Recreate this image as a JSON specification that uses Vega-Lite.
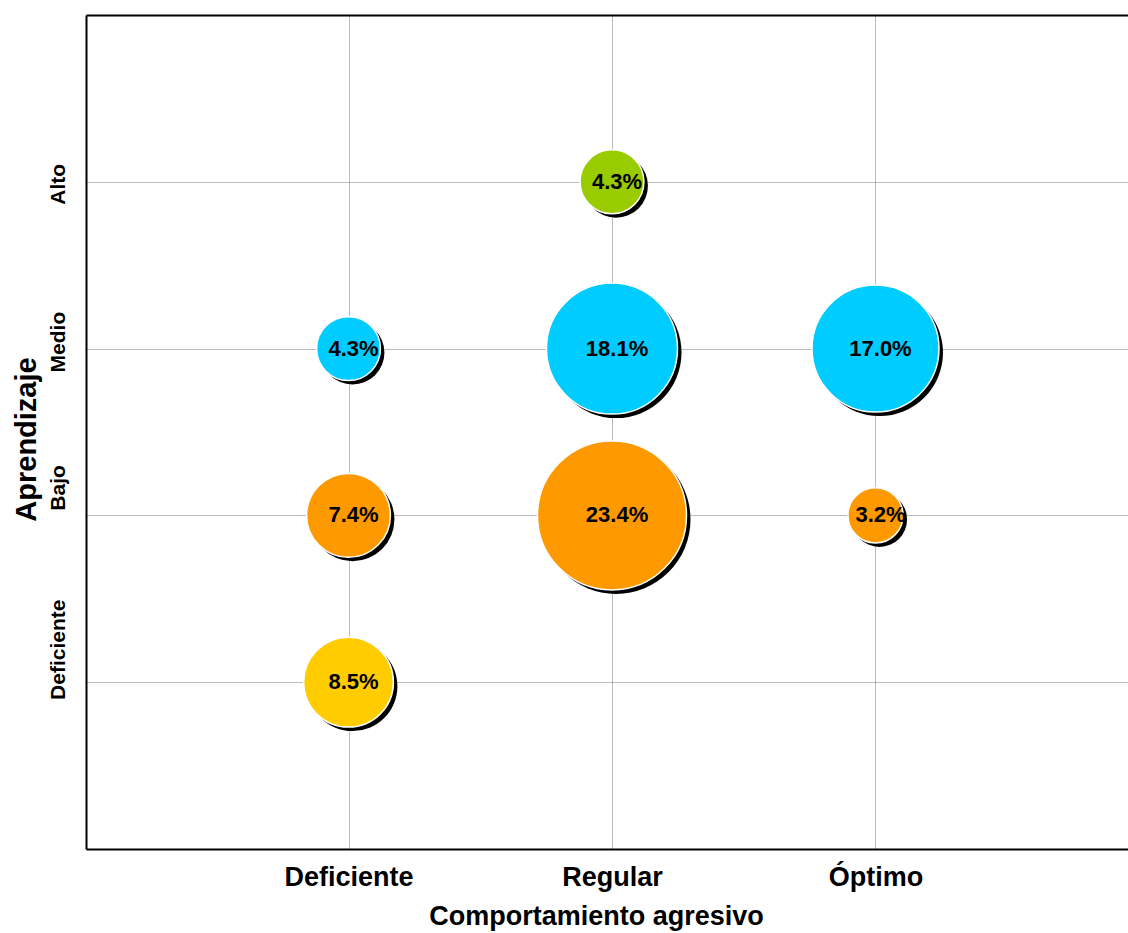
{
  "$schema": "https://vega.github.io/schema/vega-lite/v6.json",
  "width": 1042,
  "height": 834,
  "autosize": {"type": "none"},
  "padding": {"left": 86, "top": 15, "right": 0, "bottom": 84},
  "background": "white",
  "config": {
    "font": "Liberation Sans, Arial, sans-serif",
    "view": {"stroke": null},
    "axis": {
      "domainColor": "black",
      "domainWidth": 2,
      "ticks": false,
      "gridColor": "#777777",
      "gridDash": [1, 1],
      "gridWidth": 1,
      "labelColor": "black",
      "titleColor": "black",
      "labelFontWeight": "bold",
      "titleFontWeight": "bold"
    }
  },
  "data": {
    "values": [
      {"comportamiento": "Deficiente", "aprendizaje": "Medio", "porcentaje": 0.043},
      {"comportamiento": "Deficiente", "aprendizaje": "Bajo", "porcentaje": 0.074},
      {"comportamiento": "Deficiente", "aprendizaje": "Deficiente", "porcentaje": 0.085},
      {"comportamiento": "Regular", "aprendizaje": "Alto", "porcentaje": 0.043},
      {"comportamiento": "Regular", "aprendizaje": "Medio", "porcentaje": 0.181},
      {"comportamiento": "Regular", "aprendizaje": "Bajo", "porcentaje": 0.234},
      {"comportamiento": "Óptimo", "aprendizaje": "Medio", "porcentaje": 0.170},
      {"comportamiento": "Óptimo", "aprendizaje": "Bajo", "porcentaje": 0.032}
    ]
  },
  "layer": [
    {
      "mark": {"type": "circle", "color": "black", "opacity": 1, "xOffset": 4, "yOffset": 4},
      "encoding": {
        "x": {
          "field": "comportamiento", "type": "nominal",
          "scale": {"type": "point", "domain": ["Deficiente", "Regular", "Óptimo"], "padding": 0.9773, "align": 0.5097},
          "axis": {
            "orient": "bottom", "title": "Comportamiento agresivo", "labelAngle": 0,
            "labelFontSize": 27, "titleFontSize": 27, "labelPadding": 15, "titlePadding": 13,
            "grid": true, "titleX": 510
          }
        },
        "y": {
          "field": "aprendizaje", "type": "nominal",
          "scale": {"type": "point", "domain": ["Alto", "Medio", "Bajo", "Deficiente"], "padding": 1},
          "axis": {
            "title": "Aprendizaje", "labelAngle": -90, "labelFontSize": 21, "titleFontSize": 29,
            "labelPadding": 18, "titlePadding": 6, "grid": true, "titleY": 424,
            "labelOffset": {"expr": "datum.value == 'Bajo' ? -28 : datum.value == 'Deficiente' ? -33 : datum.value == 'Medio' ? -7 : 2"}
          }
        },
        "size": {"field": "porcentaje", "type": "quantitative", "scale": {"domain": [0, 0.234], "range": [0, 22200]}, "legend": null}
      }
    },
    {
      "mark": {"type": "circle", "opacity": 1, "stroke": "white", "strokeWidth": 1.5},
      "encoding": {
        "x": {
          "field": "comportamiento", "type": "nominal",
          "axis": {"orient": "top", "labels": false, "title": null, "grid": false, "domain": true}
        },
        "y": {"field": "aprendizaje", "type": "nominal"},
        "size": {"field": "porcentaje", "type": "quantitative", "legend": null},
        "color": {
          "field": "aprendizaje", "type": "nominal",
          "scale": {"domain": ["Alto", "Medio", "Bajo", "Deficiente"], "range": ["#99CC00", "#00CCFF", "#FF9900", "#FFCC00"]},
          "legend": null
        }
      }
    },
    {
      "mark": {"type": "text", "fontSize": 22, "fontWeight": "bold", "color": "black", "dx": 5, "baseline": "middle", "align": "center"},
      "encoding": {
        "x": {"field": "comportamiento", "type": "nominal", "axis": null},
        "y": {"field": "aprendizaje", "type": "nominal"},
        "text": {"field": "porcentaje", "type": "quantitative", "format": ".1%"}
      }
    }
  ],
  "resolve": {"axis": {"x": "independent"}}
}
